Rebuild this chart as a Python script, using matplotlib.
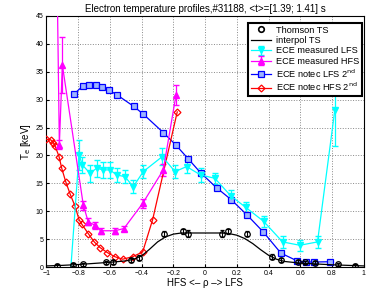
import matplotlib
matplotlib.use("Agg")
import matplotlib.pyplot as plt
from matplotlib.lines import Line2D

plt.rcParams["font.family"] = ["Liberation Sans", "DejaVu Sans"]

# Thomson TS
ts_x = [-0.934, -0.831, -0.768, -0.625, -0.579, -0.47, -0.42, -0.258, -0.142, -0.107,
        0.104, 0.145, 0.261, 0.423, 0.475, 0.582, 0.628, 0.69, 0.838, 0.943]
ts_y = [0.2, 0.4, 0.5, 0.85, 0.9, 1.25, 1.7, 6.0, 6.4, 6.0,
        6.0, 6.4, 6.0, 1.85, 1.25, 0.95, 0.85, 0.8, 0.5, 0.25]
ts_err = [0.3, 0.3, 0.3, 0.3, 0.3, 0.3, 0.4, 0.5, 0.5, 0.6,
          0.6, 0.5, 0.5, 0.4, 0.3, 0.3, 0.3, 0.3, 0.3, 0.3]

# interpol TS
it_x = [-1.0, -0.9, -0.8, -0.7, -0.6, -0.5, -0.45, -0.4, -0.35, -0.3, -0.25, -0.2, -0.15,
        -0.1, 0.0, 0.1, 0.15, 0.2, 0.25, 0.3, 0.35, 0.4, 0.45, 0.5, 0.6, 0.7, 0.8, 0.9, 1.0]
it_y = [0.2, 0.3, 0.45, 0.65, 0.85, 1.1, 1.4, 2.0, 3.2, 4.5, 5.4, 5.9, 6.1,
        6.1, 6.1, 6.1, 6.0, 5.7, 5.1, 4.2, 3.1, 2.1, 1.4, 1.0, 0.7, 0.55, 0.4, 0.3, 0.2]

# ECE measured LFS
lfs_x = [-0.85, -0.795, -0.774, -0.726, -0.684, -0.642, -0.6, -0.558, -0.506, -0.453,
         -0.39, -0.27, -0.19, -0.117, -0.029, 0.061, 0.16, 0.255, 0.368, 0.488, 0.597, 0.708, 0.817]
lfs_y = [-1.5, 20.1, 18.3, 16.8, 17.7, 17.4, 17.4, 16.5, 16.2, 14.4,
         17.1, 19.8, 17.1, 18.0, 16.5, 15.9, 12.8, 10.7, 8.2, 4.5, 3.9, 4.5, 28.1]
lfs_err = [0.0, 2.7, 1.5, 1.5, 1.5, 1.5, 1.5, 1.2, 1.2, 1.2,
           1.2, 1.5, 1.2, 1.2, 1.2, 1.0, 1.0, 1.0, 1.0, 1.0, 1.0, 1.0, 6.5]

# ECE measured HFS
hfs_x = [-0.937, -0.919, -0.9, -0.768, -0.737, -0.695, -0.659, -0.569, -0.512, -0.394, -0.264, -0.184]
hfs_y = [60.0, 21.9, 36.2, 11.1, 8.1, 7.5, 6.5, 6.5, 6.9, 11.4, 17.4, 30.8]
hfs_err = [0.0, 0.8, 5.1, 0.8, 0.6, 0.6, 0.5, 0.5, 0.5, 0.8, 1.0, 1.8]

# ECE notec LFS 2nd
nl_x = [-0.827, -0.768, -0.73, -0.69, -0.65, -0.608, -0.558, -0.451, -0.39, -0.264, -0.186,
        -0.107, -0.029, 0.072, 0.163, 0.265, 0.366, 0.477, 0.58, 0.633, 0.687, 0.786]
nl_y = [31.0, 32.5, 32.7, 32.6, 32.3, 31.7, 30.9, 28.8, 27.4, 24.1, 21.9,
        19.4, 16.9, 14.2, 12.1, 9.3, 6.3, 2.5, 1.1, 0.9, 0.9, 0.95]

# ECE notec HFS 2nd
nh_x = [-1.0, -0.974, -0.957, -0.946, -0.921, -0.904, -0.879, -0.85, -0.82, -0.795, -0.778,
        -0.737, -0.699, -0.663, -0.617, -0.569, -0.52, -0.457, -0.394, -0.331, -0.176]
nh_y = [22.9, 22.8, 22.3, 21.7, 19.8, 17.7, 15.3, 13.0, 10.9, 8.5, 7.7,
        6.0, 4.5, 3.5, 2.6, 1.85, 1.4, 1.85, 2.7, 8.5, 27.8]

fig = plt.figure(figsize=(3.69, 2.89), dpi=100)
ax = fig.add_axes([0.126, 0.076, 0.86, 0.869])

ax.errorbar(ts_x, ts_y, yerr=ts_err, color="black", marker="o", ms=4, mfc="none",
            mew=0.9, ls="none", elinewidth=0.8, capsize=1.5, zorder=5)
h_it, = ax.plot(it_x, it_y, color="black", lw=0.9, label="interpol TS", zorder=4)
h_lfs = ax.errorbar(lfs_x, lfs_y, yerr=lfs_err, color="cyan", marker="v", ms=4.5, lw=0.9,
                    elinewidth=0.9, capsize=2, label="ECE measured LFS", zorder=3)
h_hfs = ax.errorbar(hfs_x, hfs_y, yerr=hfs_err, color="magenta", marker="^", ms=4.5, lw=0.9,
                    elinewidth=0.9, capsize=2, label="ECE measured HFS", zorder=3)
h_nl, = ax.plot(nl_x, nl_y, color="blue", marker="s", ms=4, mfc="#9db4ff", mew=0.9, lw=0.9,
                label=r"ECE notec LFS 2$^{\rm nd}$", zorder=3)
h_nh, = ax.plot(nh_x, nh_y, color="red", marker="D", ms=3.5, mfc="none", mew=0.9, lw=0.9,
                label=r"ECE notec HFS 2$^{\rm nd}$", zorder=3)
# legend entry for Thomson: marker only
h_ts = Line2D([], [], color="black", marker="o", ms=4, mfc="none", mew=1.2, ls="none",
              label="Thomson TS")

ax.set_xlim(-1, 1)
ax.set_ylim(0, 45)
ax.set_xticks([-1, -0.8, -0.6, -0.4, -0.2, 0, 0.2, 0.4, 0.6, 0.8, 1])
ax.set_xticklabels(["\u22121", "\u22120.8", "\u22120.6", "\u22120.4", "\u22120.2", "0",
                    "0.2", "0.4", "0.6", "0.8", "1"])
ax.set_yticks(range(0, 46, 5))
ax.tick_params(labelsize=5, length=2, direction="in", pad=2)
ax.grid(True, ls=":", color="#888888", lw=0.7)
for s in ax.spines.values():
    s.set_linewidth(0.8)

ax.set_title("Electron temperature profiles,#31188, <t>=[1.39; 1.41] s", fontsize=7, pad=3)
ax.set_xlabel("HFS <\u2013 \u03c1 \u2013> LFS", fontsize=7, labelpad=1)
ax.set_ylabel(r"T$_{\rm e}$ [keV]", fontsize=7, labelpad=2)

handles = [h_ts, h_it, h_lfs, h_hfs, h_nl, h_nh]
leg = ax.legend(handles=handles, loc="upper right", bbox_to_anchor=(0.994, 0.972),
                borderaxespad=0, fontsize=6.6, fancybox=False, framealpha=1,
                handlelength=2.2, handletextpad=0.5, labelspacing=0.15, borderpad=0.3)
leg.get_frame().set_edgecolor("black")
leg.get_frame().set_linewidth(1.5)

fig.savefig("out.png", dpi=100)
